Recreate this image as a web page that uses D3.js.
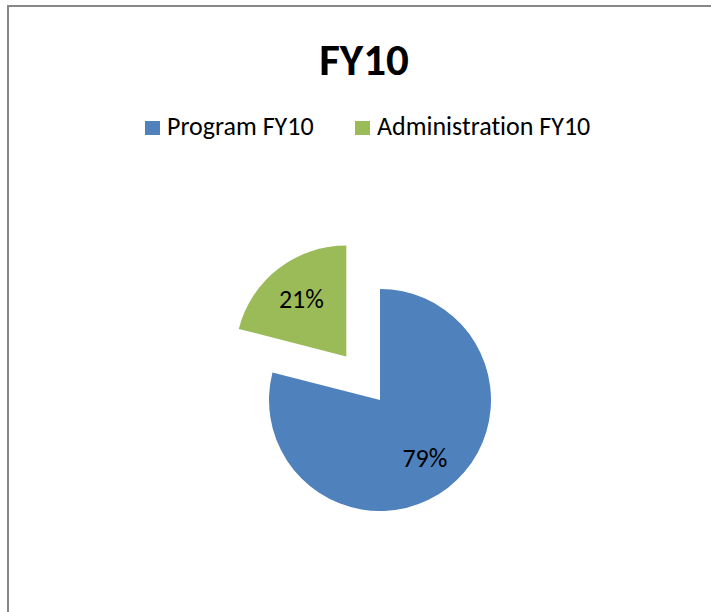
<!DOCTYPE html>
<html>
<head>
<meta charset="utf-8">
<script src="https://cdn.jsdelivr.net/npm/d3@7"></script>
<style>
  body { margin: 0; background: #fff; }
  text { font-family: Carlito, Calibri, "Open Sans", sans-serif; fill: #000; font-variant-ligatures: none; }
</style>
</head>
<body>
<script>
// chart data
const categories = ["Program FY10", "Administration FY10"];
const values = [79, 21];
const labels = ["79%", "21%"];
const colors = ["#4F81BD", "#9BBB59"];
const exploded = [0, 55];

const width = 711, height = 612;
const cx = 380, cy = 400, radius = 111;

const svg = d3.select("body").append("svg")
    .attr("width", width)
    .attr("height", height);

// chart frame
svg.append("rect")
    .attr("x", 8)
    .attr("y", 6)
    .attr("width", 740)
    .attr("height", 640)
    .attr("fill", "none")
    .attr("stroke", "#878787")
    .attr("stroke-width", 2);

svg.append("text")
    .attr("x", 364)
    .attr("y", 75)
    .attr("text-anchor", "middle")
    .style("font-weight", "bold")
    .style("font-size", "45px")
    .text("FY10");

// legend
const legendX = [145, 355];
const legend = svg.selectAll(".legend")
    .data(categories)
    .enter().append("g")
    .attr("class", "legend")
    .attr("transform", function(d, i) { return "translate(" + legendX[i] + ",121)"; });

legend.append("rect")
    .attr("width", 15)
    .attr("height", 14)
    .attr("fill", function(d, i) { return colors[i]; });

legend.append("text")
    .attr("x", 22)
    .attr("y", 14)
    .style("font-size", "26px")
    .text(function(d) { return d; });

// pie
const pie = d3.pie().sort(null).value(function(d) { return d; });
const arc = d3.arc().innerRadius(0).outerRadius(radius);
const labelArc = d3.arc().innerRadius(radius * 0.66).outerRadius(radius * 0.66);

const arcs = pie(values);

const g = svg.append("g")
    .attr("transform", "translate(" + cx + "," + cy + ")");

const slice = g.selectAll(".slice")
    .data(arcs)
    .enter().append("g")
    .attr("class", "slice")
    .attr("transform", function(d, i) {
        var a = (d.startAngle + d.endAngle) / 2;
        return "translate(" + (Math.sin(a) * exploded[i]) + "," + (-Math.cos(a) * exploded[i]) + ")";
    });

slice.append("path")
    .attr("d", arc)
    .attr("fill", function(d, i) { return colors[i]; });

slice.append("text")
    .attr("transform", function(d) { return "translate(" + labelArc.centroid(d) + ")"; })
    .attr("text-anchor", "middle")
    .attr("dy", "0.35em")
    .style("font-size", "26px")
    .text(function(d, i) { return labels[i]; });
</script>
</body>
</html>
